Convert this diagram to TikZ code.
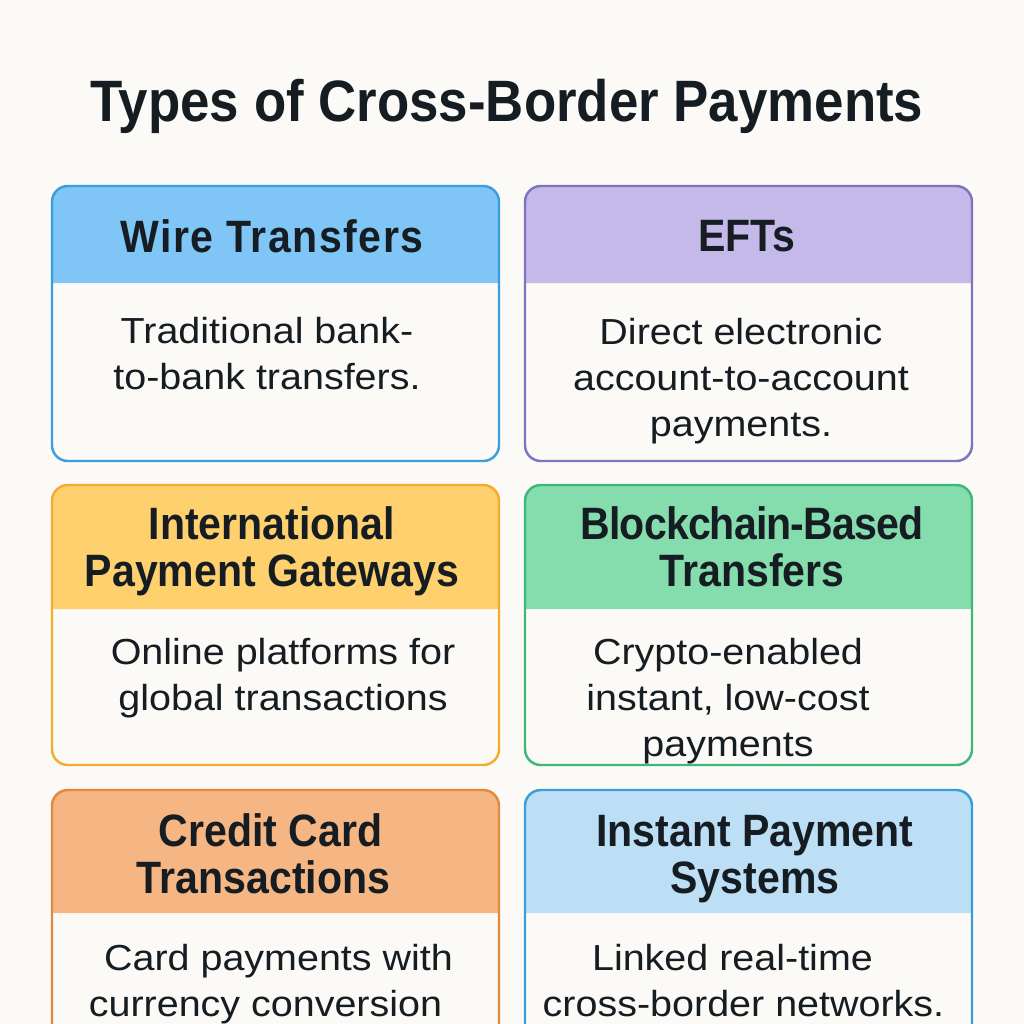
\documentclass[tikz,border=0pt]{standalone}
\usepackage{fontspec}
\setmainfont{Liberation Sans}
\newfontfamily\headfont[FakeStretch=0.905]{Liberation Sans}
\newfontfamily\bodyfont[FakeStretch=1.09]{Liberation Sans}
\definecolor{pagebg}{HTML}{FBFAF7}
\definecolor{inkc}{HTML}{161D22}
\definecolor{wirefill}{HTML}{7FC6F7}
\definecolor{wireline}{HTML}{3A9FDC}
\definecolor{eftfill}{HTML}{C4B9E8}
\definecolor{eftline}{HTML}{7F74BE}
\definecolor{gatefill}{HTML}{FFD06E}
\definecolor{gateline}{HTML}{F5AC2E}
\definecolor{chainfill}{HTML}{85DDAD}
\definecolor{chainline}{HTML}{3DB878}
\definecolor{cardfill}{HTML}{F6B684}
\definecolor{cardline}{HTML}{E08A3E}
\definecolor{instfill}{HTML}{BDDFF6}
\definecolor{instline}{HTML}{3A9FD6}
\begin{document}
\begin{tikzpicture}
    [x=0.01cm, y=-0.01cm,
    head/.style={inkc, align=center, font=\fontsize{12.9pt}{13.35pt}\headfont\bfseries},
    body/.style={inkc, align=center, font=\fontsize{10.3pt}{13.1pt}\bodyfont},
    frame/.style={line width=0.7pt, rounded corners=4.5pt}]
    \clip (0,0) rectangle (1024,1024);
    \fill[pagebg] (0,0) rectangle (1024,1024);
    % top row
    \fill[wirefill] (52,283) [rounded corners=4.5pt] -- (52,186) -- (499,186) [sharp corners] -- (499,283) -- cycle;
    \draw[wireline, frame] (52,186) rectangle (499,461);
    \fill[eftfill] (525,283) [rounded corners=4.5pt] -- (525,186) -- (972,186) [sharp corners] -- (972,283) -- cycle;
    \draw[eftline, frame] (525,186) rectangle (972,461);
    % middle row
    \fill[gatefill] (52,609) [rounded corners=4.5pt] -- (52,485) -- (499,485) [sharp corners] -- (499,609) -- cycle;
    \draw[gateline, frame] (52,485) rectangle (499,765);
    \fill[chainfill] (525,609) [rounded corners=4.5pt] -- (525,485) -- (972,485) [sharp corners] -- (972,609) -- cycle;
    \draw[chainline, frame] (525,485) rectangle (972,765);
    % bottom row runs off the page
    \fill[cardfill] (52,913) [rounded corners=4.5pt] -- (52,790) -- (499,790) [sharp corners] -- (499,913) -- cycle;
    \draw[cardline, frame] (52,790) rectangle (499,1060);
    \fill[instfill] (525,913) [rounded corners=4.5pt] -- (525,790) -- (972,790) [sharp corners] -- (972,913) -- cycle;
    \draw[instline, frame] (525,790) rectangle (972,1060);
    % texts
    \node[inkc, font=\fontsize{16.6pt}{18pt}\headfont\bfseries] (title) at (507,106) {Types of Cross-Border Payments};
    \node[head] (wirehead) at (272,236) {\addfontfeature{LetterSpace=3.3}Wire Transfers};
    \node[body] (wirebody) at (267,354) {Traditional bank-\\to-bank transfers.};
    \node[head] (efthead) at (747,236) {EFTs};
    \node[body] (eftbody) at (741,381) {Direct electronic\\account-to-account\\payments.};
    \node[head] (gatehead) at (272,551) {International\\Payment Gateways};
    \node[body] (gatebody) at (283,678) {Online platforms for\\global transactions};
    \node[head] (chainhead) at (752,547) {\addfontfeature{LetterSpace=-1.9}Blockchain-Based\\Transfers};
    \node[body] (chainbody) at (728,701) {Crypto-enabled\\instant, low-cost\\payments};
    \node[head] (cardhead) at (267,854) {\hspace*{0.07cm}Credit Card\\Transactions\hspace*{0.07cm}};
    \node[body] (cardbody) at (272,984) {\hspace*{0.13cm}Card payments with\\currency conversion\hspace*{0.13cm}};
    \node[head] (insthead) at (755,859) {Instant Payment\\Systems};
    \node[body] (instbody) at (738,981) {Linked real-time\hspace*{0.11cm}\\\hspace*{0.11cm}cross-border networks.};
\end{tikzpicture}
\end{document}
